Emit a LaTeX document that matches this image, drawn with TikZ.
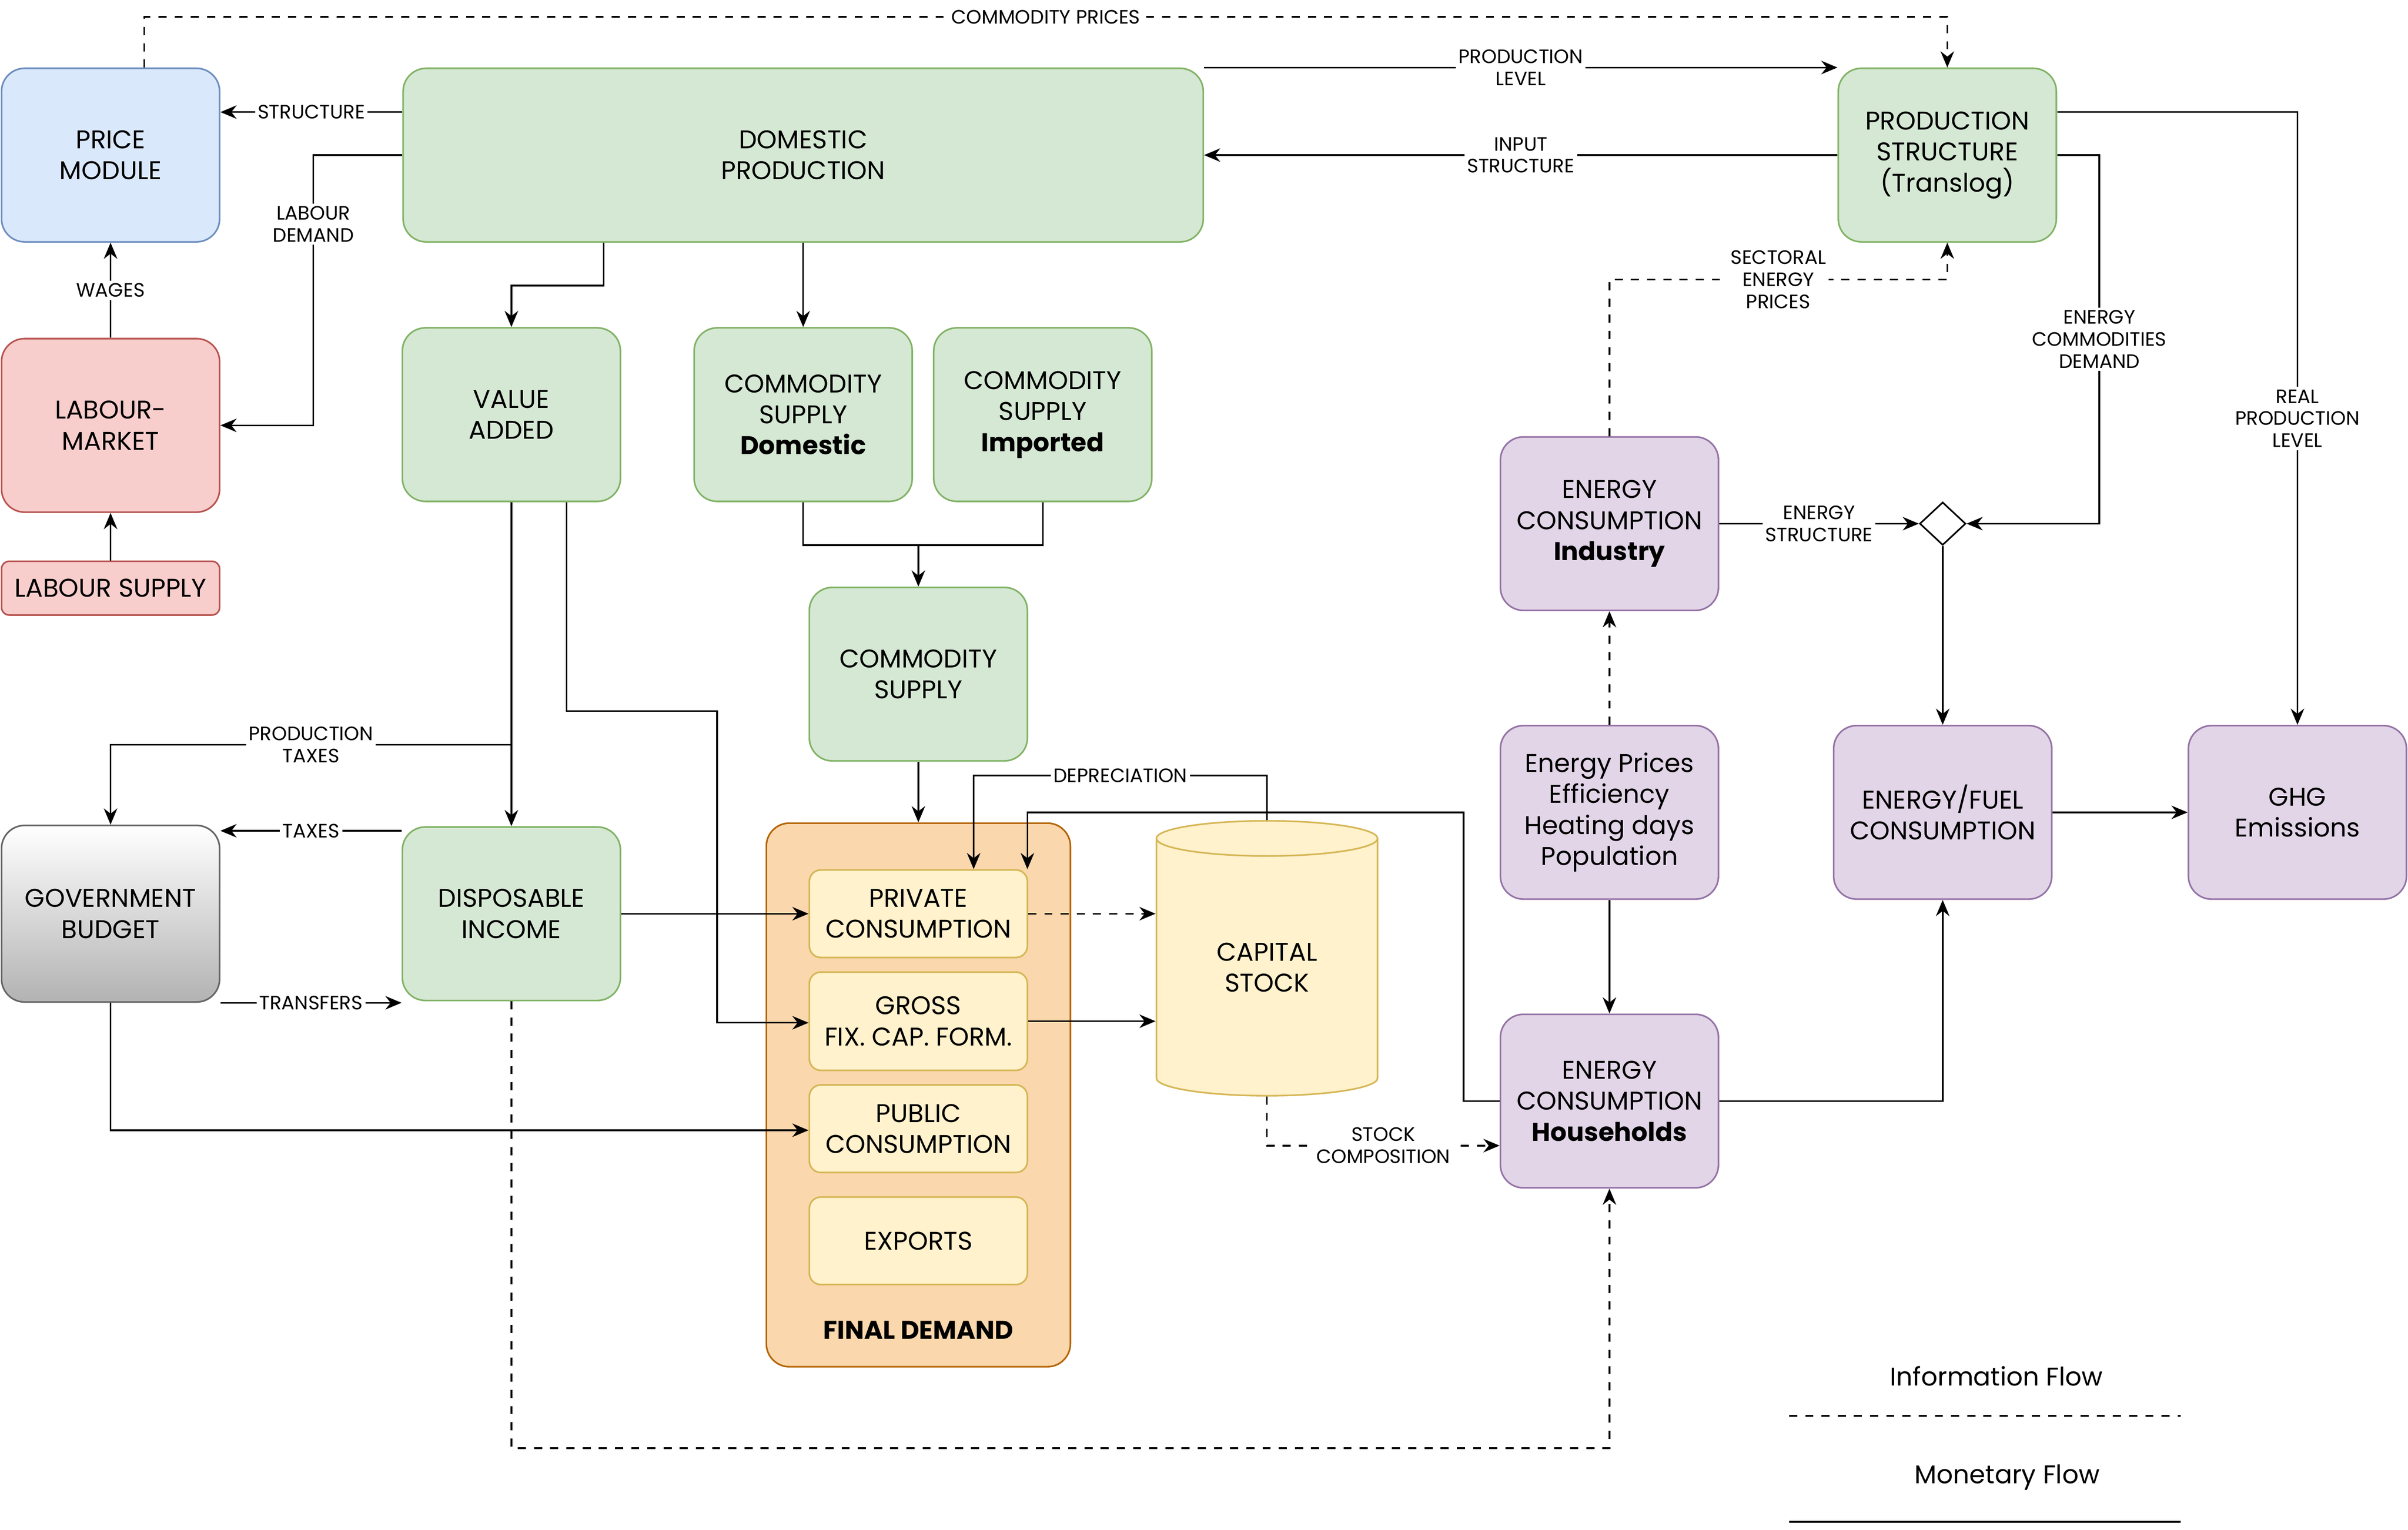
\documentclass[tikz,border=0pt]{standalone}
\usepackage{fontspec}
\setmainfont{Poppins}
\usetikzlibrary{shapes.geometric,arrows.meta}
\definecolor{gF}{HTML}{D5E8D4}\definecolor{gS}{HTML}{82B366}
\definecolor{bF}{HTML}{DAE8FC}\definecolor{bS}{HTML}{6C8EBF}
\definecolor{rF}{HTML}{F8CECC}\definecolor{rS}{HTML}{B85450}
\definecolor{pF}{HTML}{E1D5E7}\definecolor{pS}{HTML}{9673A6}
\definecolor{yF}{HTML}{FFF2CC}\definecolor{yS}{HTML}{D6B656}
\definecolor{oF}{HTML}{FAD7AC}\definecolor{oS}{HTML}{B46504}
\tikzset{
 bx/.style={draw, rounded corners=0.3cm, align=center, font=\fontsize{9.5}{11.5}\selectfont, line width=0.6pt, inner sep=0pt},
 sz/.style 2 args={minimum width=#1*0.02cm, minimum height=#2*0.02cm},
 gbox/.style={bx, fill=gF, draw=gS},
 pbox/.style={bx, fill=pF, draw=pS},
 ybox/.style={bx, fill=yF, draw=yS, rounded corners=0.15cm},
 lbl/.style={fill=white, inner sep=1pt, align=center, font=\fontsize{7.2}{8.2}\selectfont},
 ar/.style={-{Stealth[length=6pt,width=5pt]}, line width=0.6pt},
 dar/.style={ar, dashed},
}
\begin{document}
\begin{tikzpicture}[x=0.02cm,y=-0.02cm]
\useasboundingbox (0,0) rectangle (1568,996);
% nodes
\node[bx, fill=bF, draw=bS, sz={142}{113}] (price) at (72,101) {PRICE\\MODULE};
\node[bx, fill=rF, draw=rS, sz={142}{113}] (lab) at (72,277) {LABOUR-\\MARKET};
\node[bx, fill=rF, draw=rS, sz={142}{35}, rounded corners=0.1cm] (ls) at (72,383) {LABOUR SUPPLY};
\node[gbox, sz={521}{113}] (dom) at (523,101) {DOMESTIC\\PRODUCTION};
\node[gbox, sz={142}{113}] (va) at (333,270) {VALUE\\ADDED};
\node[gbox, sz={142}{113}] (csd) at (523,270) {COMMODITY\\SUPPLY\\\textbf{Domestic}};
\node[gbox, sz={142}{113}] (csi) at (679,270) {COMMODITY\\SUPPLY\\\textbf{Imported}};
\node[gbox, sz={142}{113}] (cs) at (598,439) {COMMODITY\\SUPPLY};
\node[bx, top color=white, bottom color=black!30, draw=black!60, sz={142}{115}] (gov) at (72,595) {GOVERNMENT\\BUDGET};
\node[gbox, sz={142}{113}] (di) at (333,595) {DISPOSABLE\\INCOME};
\node[bx, fill=oF, draw=oS, sz={198}{354}] (fd) at (598,713) {};
\node[font=\fontsize{9.5}{11}\selectfont\bfseries] at (598,866) {FINAL DEMAND};
\node[ybox, sz={142}{57}] (pc) at (598,595) {PRIVATE\\CONSUMPTION};
\node[ybox, sz={142}{64}] (gf) at (598,665) {GROSS\\FIX. CAP. FORM.};
\node[ybox, sz={142}{57}] (pu) at (598,735) {PUBLIC\\CONSUMPTION};
\node[ybox, sz={142}{57}] (ex) at (598,808) {EXPORTS};
\node[cylinder, shape border rotate=90, aspect=0.35, draw=yS, fill=yF, line width=0.6pt, minimum width=144*0.02cm, minimum height=179*0.02cm, align=center, font=\fontsize{9.5}{11.5}\selectfont, inner sep=0pt] (cap) at (825,630) {CAPITAL\\STOCK};
\node[gbox, sz={142}{113}] (ps) at (1268,101) {PRODUCTION\\STRUCTURE\\(Translog)};
\node[pbox, sz={142}{113}] (ei) at (1048,341) {ENERGY\\CONSUMPTION\\\textbf{Industry}};
\node[pbox, sz={142}{113}] (ep) at (1048,529) {Energy Prices\\Efficiency\\Heating days\\Population};
\node[pbox, sz={142}{113}] (eh) at (1048,717) {ENERGY\\CONSUMPTION\\\textbf{Households}};
\node[pbox, sz={142}{113}] (ef) at (1265,529) {ENERGY/FUEL\\CONSUMPTION};
\node[pbox, sz={142}{113}] (ghg) at (1496,529) {GHG\\Emissions};
\node[diamond, draw, fill=white, minimum width=30*0.02cm, minimum height=28*0.02cm, inner sep=0pt, line width=0.6pt] (dia) at (1265,341) {};
% legend
\node[font=\fontsize{9.5}{11}\selectfont] (lg1) at (1300,896) {Information Flow};
\node[font=\fontsize{9.5}{11}\selectfont] (lg2) at (1307,962) {Monetary Flow};
\coordinate (l1a) at (1165,922); \coordinate (l1b) at (1420,922);
\coordinate (l2a) at (1165,991); \coordinate (l2b) at (1420,991);
\draw[dashed, line width=0.6pt] (l1a) -- (l1b);
\draw[line width=0.6pt] (l2a) -- (l2b);
% edges
\draw[dar] (price.north -| 94,0) -- (94,11) -- node[lbl]{COMMODITY PRICES} (1268,11) -- (ps.north);
\draw[ar] (dom.north east) ++(0,0) -- node[lbl]{PRODUCTION\\LEVEL} (ps.north west);
\draw[ar] (ps.west) -- node[lbl]{INPUT\\STRUCTURE} (dom.east);
\draw[ar] (dom.west |- 0,73) -- node[lbl]{STRUCTURE} (price.east |- 0,73);
\draw[ar] (dom.west) -- (204,101) -- node[lbl]{LABOUR\\DEMAND} (204,191) -- (204,277) -- (lab.east);
\draw[ar] (lab.north) -- node[lbl]{WAGES} (price.south);
\draw[ar] (ls.north) -- (lab.south);
\draw[ar] (dom.south -| 393,0) -- (393,186) -- (333,186) -- (va.north);
\draw[ar] (dom.south) -- (csd.north);
\draw[line width=0.6pt] (csd.south) -- (523,355) -- (679,355) -- (csi.south);
\draw[ar] (598,355) -- (cs.north);
\draw[ar] (cs.south) -- (fd.north);
\draw[ar] (va.south) -- (di.north);
\draw[ar] (va.south -| 369,0) -- (369,463) -- (467,463) -- (467,666) -- (gf.west |- 0,666);
\coordinate (pt) at (333,485);
\draw[ar] (pt) -- node[lbl]{PRODUCTION\\TAXES} (72,485) -- (gov.north);
\draw[ar] (di.west |- 0,541) -- node[lbl]{TAXES} (gov.east |- 0,541);
\draw[ar] (gov.east |- 0,653) -- node[lbl]{TRANSFERS} (di.west |- 0,653);
\draw[ar] (di.east) -- (pc.west);
\draw[ar] (gov.south) -- (72,736) -- (pu.west |- 0,736);
\draw[dar] (pc.east) -- (cap.west |- pc.east);
\draw[ar] (gf.east) -- (cap.west |- gf.east);
\draw[ar] (cap.north) -- (825,505) -- node[lbl]{DEPRECIATION} (634,505) -- (pc.north -| 634,0);
\draw[ar] (eh.west) -- (953,717) -- (953,529) -- (669,529) -- (pc.north -| 669,0);
\draw[dar] (cap.south) -- (825,746) -- node[lbl]{STOCK\\COMPOSITION} (eh.west |- 0,746);
\draw[dar] (di.south) -- (333,943) -- (1048,943) -- (eh.south);
\draw[dar] (ep.north) -- (ei.south);
\draw[ar] (ep.south) -- (eh.north);
\draw[dar] (ei.north) -- (1048,182) -- node[lbl]{SECTORAL\\ENERGY\\PRICES} (1268,182) -- (ps.south);
\draw[ar] (ei.east) -- node[lbl]{ENERGY\\STRUCTURE} (dia.west);
\draw[ar] (ps.east) -- (1367,101) -- node[lbl]{ENERGY\\COMMODITIES\\DEMAND} (1367,341) -- (dia.east);
\draw[ar] (dia.south) -- (ef.north);
\draw[ar] (ps.east |- 0,73) -- (1496,73) -- node[lbl]{REAL\\PRODUCTION\\LEVEL} (ghg.north);
\draw[ar] (eh.east) -- (1265,717) -- (ef.south);
\draw[ar] (ef.east) -- (ghg.west);
\end{tikzpicture}
\end{document}
